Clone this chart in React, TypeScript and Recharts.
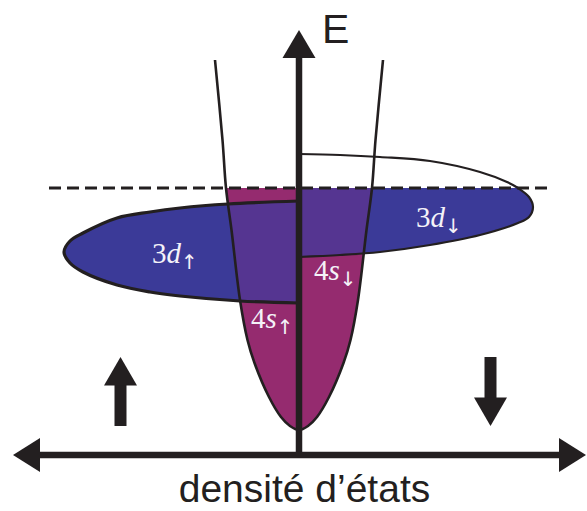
import { ScatterChart, Scatter, XAxis, YAxis } from "recharts"

// units: d = density of states (axis at 0), e = energy (Fermi level at 0)
const densityDomain = [-29.9, 28.8]
const energyDomain = [-32.3, 18.8]

// 4s band: half width of the parabola at a few energies
const sEnergy = [12.8, 4.8, 0, -4.2, -11.2, -15.2, -17.5, -20.9, -22.9, -23.8, -24.2]
const sHalfWidth = [8.4, 7.65, 7.3, 6.75, 5.9, 5.15, 4.45, 3.0, 1.8, 0.9, 0]

// 3d spin up: outline from the axis, round the left tip, back to the axis
const dUpDensity = [0, -7.1, -11.9, -14.9, -18.2, -21.6, -22.9, -23.5, -22.9, -21.6, -18.2, -14.9, -11.9, -5.9, 0]
const dUpEnergy = [-1.3, -1.6, -2.0, -2.4, -3.0, -4.5, -5.3, -6.4, -7.5, -8.4, -9.7, -10.4, -10.8, -11.3, -11.5]

// 3d spin down: same, on the right
const dDownDensity = [0, 4.1, 8.1, 13.1, 18.1, 20.8, 21.9, 23.0, 23.4, 23.0, 21.9, 18.1, 13.1, 8.1, 4.1, 0]
const dDownEnergy = [3.4, 3.3, 3.1, 2.7, 1.6, 0.6, 0, -0.9, -1.9, -2.9, -3.5, -4.7, -5.7, -6.4, -6.7, -6.9]

// dashed Fermi level
const fermiDensity = [-25.0, 25.3]

// axes and spin arrows: [from, to]
const energyAxis = [{ d: 0, e: -27.0 }, { d: 0, e: 15.8 }]
const dosAxis = [{ d: -28.6, e: -26.7 }, { d: 28.7, e: -26.7 }]
const spinUpArrow = [{ d: -17.85, e: -23.8 }, { d: -17.85, e: -16.9 }]
const spinDownArrow = [{ d: 19.15, e: -16.9 }, { d: 19.15, e: -23.8 }]

const bandLabels = [
  { d: -14.7, e: -7.5, n: "3", l: "d", spin: "↑" },
  { d: 11.7, e: -3.9, n: "3", l: "d", spin: "↓" },
  { d: 1.5, e: -9.2, n: "4", l: "s", spin: "↓" },
  { d: -4.8, e: -14.0, n: "4", l: "s", spin: "↑" },
]
const axisLabels = [
  { d: 2.3, e: 14.5, text: "E", anchor: "start" },
  { d: 0.55, e: -31.4, text: "densité d’états", anchor: "middle" },
]

const MAGENTA = "#952b6f"
const BLUE = "#3b3a98"
const PURPLE = "#553591"
const INK = "#231f20"

const sBand = [
  ...sEnergy.map((e, i) => ({ d: -sHalfWidth[i], e })),
  ...sEnergy.map((e, i) => ({ d: sHalfWidth[i], e })).reverse().slice(1),
]
const dUp = dUpDensity.map((d, i) => ({ d, e: dUpEnergy[i] }))
const dDown = dDownDensity.map((d, i) => ({ d, e: dDownEnergy[i] }))
const fermi = fermiDensity.map((d) => ({ d, e: 0 }))

type P = { x: number; y: number }

// centripetal catmull-rom through the scaled points
function smooth(pts: P[]) {
  let path = `M${pts[0].x},${pts[0].y}`
  for (let i = 0; i < pts.length - 1; i++) {
    const p0 = pts[i - 1] ?? pts[i]
    const p1 = pts[i]
    const p2 = pts[i + 1]
    const p3 = pts[i + 2] ?? p2
    const l01 = Math.sqrt(Math.hypot(p1.x - p0.x, p1.y - p0.y))
    const l12 = Math.sqrt(Math.hypot(p2.x - p1.x, p2.y - p1.y))
    const l23 = Math.sqrt(Math.hypot(p3.x - p2.x, p3.y - p2.y))
    let c1x = p1.x, c1y = p1.y, c2x = p2.x, c2y = p2.y
    if (l01 > 1e-6) {
      const a = 2 * l01 * l01 + 3 * l01 * l12 + l12 * l12
      const n = 3 * l01 * (l01 + l12)
      c1x = (p1.x * a - p0.x * l12 * l12 + p2.x * l01 * l01) / n
      c1y = (p1.y * a - p0.y * l12 * l12 + p2.y * l01 * l01) / n
    }
    if (l23 > 1e-6) {
      const b = 2 * l23 * l23 + 3 * l23 * l12 + l12 * l12
      const m = 3 * l23 * (l23 + l12)
      c2x = (p2.x * b + p1.x * l23 * l23 - p3.x * l12 * l12) / m
      c2y = (p2.y * b + p1.y * l23 * l23 - p3.y * l12 * l12) / m
    }
    path += ` C${c1x},${c1y} ${c2x},${c2y} ${p2.x},${p2.y}`
  }
  return path
}

const noMark = () => <g />

function arrow(shaft: number, headLen: number, headHalf: number, both = false) {
  return (props: any) => {
    const [a, b] = props.points as P[]
    const len = Math.hypot(b.x - a.x, b.y - a.y)
    const ux = (b.x - a.x) / len
    const uy = (b.y - a.y) / len
    const head = (tip: P, dir: number) => {
      const bx = tip.x - dir * ux * headLen
      const by = tip.y - dir * uy * headLen
      return `${tip.x},${tip.y} ${bx - uy * headHalf},${by + ux * headHalf} ${bx + uy * headHalf},${by - ux * headHalf}`
    }
    const sx = both ? a.x + ux * (headLen - 2) : a.x
    const sy = both ? a.y + uy * (headLen - 2) : a.y
    return (
      <g>
        <line x1={sx} y1={sy} x2={b.x - ux * (headLen - 2)} y2={b.y - uy * (headLen - 2)} stroke={INK} strokeWidth={shaft} />
        <polygon points={head(b, 1)} fill={INK} />
        {both && <polygon points={head(a, -1)} fill={INK} />}
      </g>
    )
  }
}

function BandLabel(props: any) {
  const p = props.payload
  return (
    <text x={props.cx} y={props.cy} fill="#f4f2f8" fontFamily="'Liberation Serif', serif" fontSize={29}>
      <tspan>{p.n}</tspan>
      <tspan fontStyle="italic">{p.l}</tspan>
      <tspan fontFamily="'DejaVu Sans', sans-serif" fontSize={20} dy={6}>{p.spin}</tspan>
    </text>
  )
}

function AxisLabel(props: any) {
  const p = props.payload
  return (
    <text x={props.cx} y={props.cy} fill={INK} textAnchor={p.anchor} fontFamily="'Liberation Sans', Arial, sans-serif" fontSize={p.text === "E" ? 41 : 39}>
      {p.text}
    </text>
  )
}

export default function App() {
  return (
    <div style={{ position: "absolute", left: 0, top: 0 }}>
      <ScatterChart width={587} height={511} margin={{ top: 0, right: 0, bottom: 0, left: 0 }}>
        <XAxis type="number" dataKey="d" domain={densityDomain} allowDataOverflow hide />
        <YAxis type="number" dataKey="e" domain={energyDomain} allowDataOverflow hide />

        {/* clip below the Fermi level */}
        <Scatter
          data={fermi}
          isAnimationActive={false}
          shape={noMark}
          line={(p: any) => (
            <defs>
              <clipPath id="below-fermi">
                <rect x={-100} y={p.points[0].y} width={2000} height={2000} />
              </clipPath>
            </defs>
          )}
        />

        {/* 4s filled up to the Fermi level */}
        <Scatter
          data={sBand}
          isAnimationActive={false}
          shape={noMark}
          line={(p: any) => {
            const d = smooth(p.points) + "Z"
            return (
              <g>
                <defs>
                  <clipPath id="s-band">
                    <path d={d} />
                  </clipPath>
                </defs>
                <path d={d} fill={MAGENTA} clipPath="url(#below-fermi)" />
              </g>
            )
          }}
        />

        {/* 3d up, all filled */}
        <Scatter
          data={dUp}
          isAnimationActive={false}
          shape={noMark}
          line={(p: any) => {
            const d = smooth(p.points) + "Z"
            return (
              <g>
                <path d={d} fill={BLUE} />
                <path d={d} fill={PURPLE} clipPath="url(#s-band)" />
              </g>
            )
          }}
        />

        {/* 3d down, filled below the Fermi level */}
        <Scatter
          data={dDown}
          isAnimationActive={false}
          shape={noMark}
          line={(p: any) => {
            const d = smooth(p.points) + "Z"
            return (
              <g clipPath="url(#below-fermi)">
                <path d={d} fill={BLUE} />
                <path d={d} fill={PURPLE} clipPath="url(#s-band)" />
              </g>
            )
          }}
        />

        {/* outlines */}
        <Scatter data={sBand} isAnimationActive={false} shape={noMark}
          line={(p: any) => <path d={smooth(p.points)} fill="none" stroke={INK} strokeWidth={2.6} />} />
        <Scatter data={dUp} isAnimationActive={false} shape={noMark}
          line={(p: any) => <path d={smooth(p.points)} fill="none" stroke={INK} strokeWidth={3.2} />} />
        <Scatter data={dDown} isAnimationActive={false} shape={noMark}
          line={(p: any) => <path d={smooth(p.points)} fill="none" stroke={INK} strokeWidth={2.2} />} />

        {/* Fermi level */}
        <Scatter data={fermi} isAnimationActive={false} shape={noMark}
          line={{ stroke: INK, strokeWidth: 3, strokeDasharray: "12 6" }} />

        {/* axes and spin arrows */}
        <Scatter data={energyAxis} isAnimationActive={false} shape={noMark} line={arrow(6.5, 28, 16.5)} />
        <Scatter data={dosAxis} isAnimationActive={false} shape={noMark} line={arrow(6.5, 27, 17, true)} />
        <Scatter data={spinUpArrow} isAnimationActive={false} shape={noMark} line={arrow(12, 28.5, 16.5)} />
        <Scatter data={spinDownArrow} isAnimationActive={false} shape={noMark} line={arrow(12, 28.5, 16.5)} />

        {/* labels */}
        <Scatter data={bandLabels} isAnimationActive={false} shape={BandLabel} />
        <Scatter data={axisLabels} isAnimationActive={false} shape={AxisLabel} />
      </ScatterChart>
    </div>
  )
}
